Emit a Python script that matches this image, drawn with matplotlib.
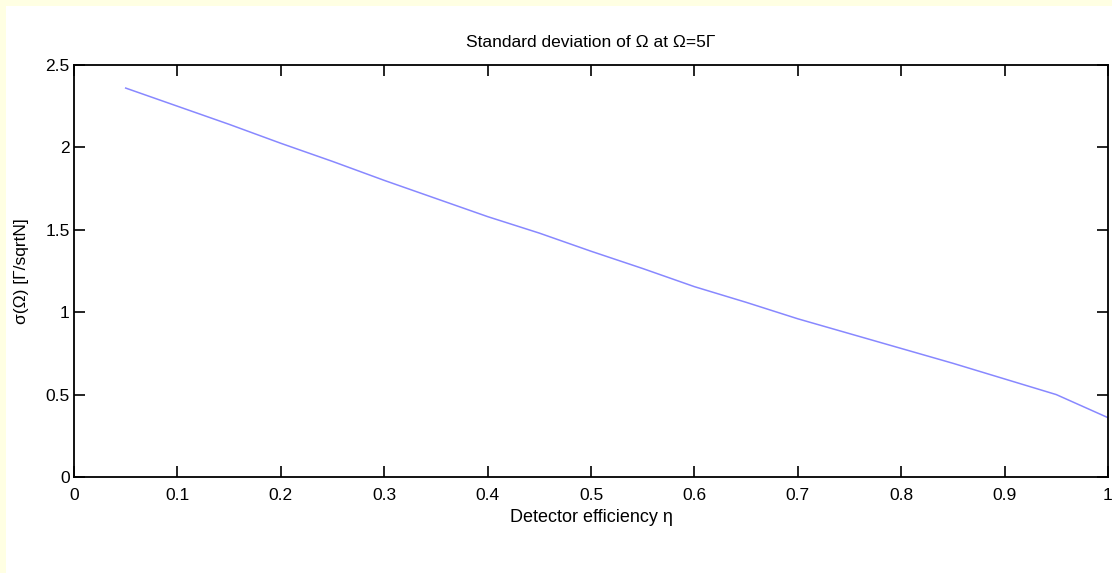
import matplotlib
matplotlib.use("Agg")
import matplotlib.pyplot as plt
from matplotlib.patches import Rectangle

# detector efficiency and standard deviation
eta = [0.05, 0.10, 0.15, 0.20, 0.25, 0.30, 0.35, 0.40, 0.45, 0.50,
       0.55, 0.60, 0.65, 0.70, 0.75, 0.80, 0.85, 0.90, 0.95, 1.00]
sigma = [2.36, 2.25, 2.14, 2.025, 1.915, 1.80, 1.69, 1.58, 1.48, 1.37,
         1.265, 1.155, 1.06, 0.96, 0.87, 0.78, 0.69, 0.595, 0.50, 0.36]

x_ticks = [0, 0.1, 0.2, 0.3, 0.4, 0.5, 0.6, 0.7, 0.8, 0.9, 1]
x_tick_labels = ["0", "0.1", "0.2", "0.3", "0.4", "0.5", "0.6", "0.7", "0.8", "0.9", "1"]
y_ticks = [0, 0.5, 1, 1.5, 2, 2.5]
y_tick_labels = ["0", "0.5", "1", "1.5", "2", "2.5"]

plt.rcParams["font.family"] = ["Liberation Sans", "DejaVu Sans"]

fig = plt.figure(figsize=(11.12, 5.73), dpi=100, facecolor="#FFFFE3")

# white page area, leaving a thin yellow strip on the left and top
bg = fig.add_axes([0, 0, 1, 1], zorder=-10)
bg.set_axis_off()
bg.add_patch(Rectangle((6 / 1112, 0), 1, 1 - 6 / 573, transform=bg.transAxes,
                       facecolor="white", edgecolor="none"))

ax = fig.add_axes([74 / 1112, 1 - 477 / 573, (1108 - 74) / 1112, (477 - 65) / 573])
ax.plot(eta, sigma, color="#8888FF", linewidth=1.1)

ax.set_xlim(0, 1)
ax.set_ylim(0, 2.5)
ax.set_xticks(x_ticks)
ax.set_xticklabels(x_tick_labels)
ax.set_yticks(y_ticks)
ax.set_yticklabels(y_tick_labels)
ax.tick_params(direction="in", length=8, width=1.2, top=True, right=True,
               labelsize=12.5)
ax.tick_params(axis="x", pad=8)
ax.tick_params(axis="y", pad=3)
for spine in ax.spines.values():
    spine.set_linewidth(1.3)

ax.set_title("Standard deviation of \u03a9 at \u03a9=5\u0393", fontsize=12.5, pad=13)
ax.set_xlabel("Detector efficiency \u03b7", fontsize=13, labelpad=4)
ax.set_ylabel("\u03c3(\u03a9) [\u0393/sqrtN]", fontsize=12.5, labelpad=12)

fig.savefig("out.png", dpi=100, facecolor=fig.get_facecolor())
